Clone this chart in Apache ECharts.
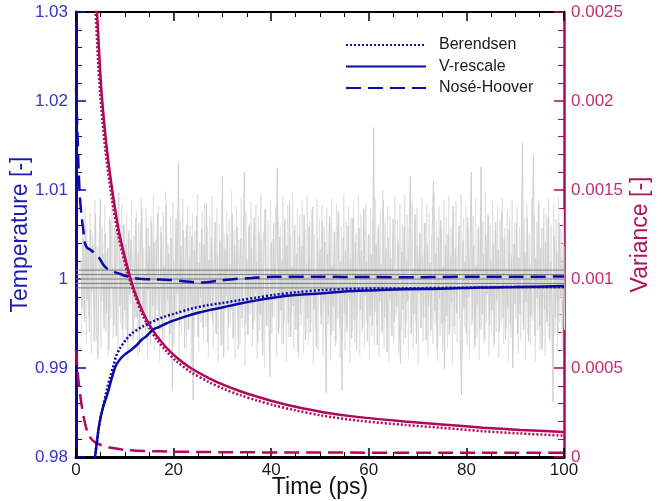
<!DOCTYPE html>
<html><head><meta charset="utf-8">
<script src="https://cdn.jsdelivr.net/npm/echarts/dist/echarts.min.js"></script>
<style>html,body{margin:0;padding:0;background:#fff}#c{width:664px;height:501px}</style>
</head><body><div id="c"></div>
<script>
// ---- Axes ----
const timeMin = 0, timeMax = 100, timeStep = 20;
const tempMin = 0.98, tempMax = 1.03, tempStep = 0.01;
const varMin = 0, varMax = 0.0025, varStep = 0.0005;
const refLevels = [0.999, 0.9995, 1.0, 1.0005, 1.001];

// ---- Temperature (left axis) ----
const bereTempTime = [3.8, 4.3, 4.9, 5.6, 6.3, 7.0, 7.7, 8.2, 9.0, 10.2, 11.5, 13.6, 16, 18, 20.4, 23.5, 27.2, 30, 33.7, 37, 40.3, 45, 50.5, 58, 67.3, 75, 83, 90, 100];
const bereTemp = [0.9795, 0.9818, 0.9840, 0.9858, 0.9875, 0.9890, 0.9903, 0.9913, 0.9922, 0.99315, 0.9939, 0.99464, 0.9953, 0.99575, 0.99614, 0.99665, 0.99708, 0.9973, 0.99764, 0.9979, 0.9982, 0.9985, 0.99876, 0.9989, 0.99895, 0.9990, 0.99905, 0.9991, 0.9991];

const vresTempTime = [3.8, 4.3, 4.8, 5.5, 6.5, 7.3, 8.2, 9.2, 10.2, 11.2, 12.3, 13.5, 14.5, 15.7, 17, 18.5, 20.4, 22.5, 25, 27.3, 30, 33.7, 37, 40.3, 45, 50.5, 55, 60, 67.3, 75, 83, 90, 100];
const vresTemp = [0.9795, 0.9818, 0.9838, 0.9855, 0.9872, 0.9888, 0.9903, 0.9911, 0.9916, 0.9920, 0.9925, 0.9932, 0.9936, 0.9943, 0.9946, 0.9950, 0.9954, 0.9958, 0.9962, 0.9965, 0.9968, 0.99725, 0.9976, 0.9979, 0.9982, 0.9984, 0.9986, 0.9987, 0.99885, 0.9989, 0.99905, 0.9991, 0.9992];

const noseTempTime = [0, 0.2, 0.35, 0.5, 0.8, 1.15, 1.5, 1.85, 2.3, 2.9, 3.6, 4.6, 5.6, 6.5, 7.8, 8.9, 9.8, 10.9, 12, 13.6, 16, 19.1, 22, 25.9, 29, 32.7, 36, 40.3, 50, 60, 70, 80, 90, 100];
const noseTemp = [1.0215, 1.018, 1.0156, 1.0128, 1.0092, 1.0070, 1.0055, 1.0040, 1.0035, 1.0033, 1.0030, 1.0025, 1.0016, 1.0011, 1.0008, 1.0006, 1.0004, 1.00026, 1.0001, 1.0, 0.99995, 0.9999, 0.99975, 0.9996, 0.9998, 1.0, 1.0001, 1.00026, 1.00025, 1.00022, 1.0002, 1.00025, 1.00025, 1.00028];

// instantaneous temperature traces (grey), sampled every 0.25 ps
const noiseStart = 1, noiseStep = 0.25;
const noiseTemp = [
1.0021,0.9968,1.0045,0.9952,1.0060,0.9978,1.0032,0.9941,1.0055,0.9985,1.0038,0.9930,1.0072,0.9960,0.9910,1.0040,1.0090,0.9975,1.0028,0.9944,
1.0051,0.9962,1.0035,0.9921,1.0066,0.9990,1.0012,0.9948,1.0058,0.9936,1.0047,1.0097,0.9970,1.0024,0.9943,1.0061,0.9965,1.0039,0.9929,1.0052,
0.9983,1.0044,1.0018,0.9934,0.9972,1.0068,0.9957,1.0030,0.9918,1.0049,1.0079,0.9961,1.0005,0.9940,1.0057,0.9988,1.0036,0.9926,1.0063,0.9969,
1.0041,0.9951,1.0026,1.0074,0.9947,0.9993,1.0052,0.9931,1.0015,0.9962,1.0083,0.9977,1.0029,0.9938,1.0046,0.9875,1.0020,0.9956,1.0067,0.9984,
1.0131,0.9949,1.0037,0.9966,1.0054,0.9922,1.0011,1.0062,0.9943,1.0025,0.9971,1.0048,0.9864,1.0033,0.9959,1.0071,0.9935,1.0018,0.9980,1.0056,
0.9945,1.0039,0.9963,1.0085,0.9929,1.0021,0.9974,1.0047,0.9952,1.0010,1.0064,0.9938,1.0027,0.9968,1.0043,0.9925,1.0115,0.9912,1.0034,0.9981,
1.0050,0.9946,1.0016,0.9965,1.0073,0.9934,1.0038,0.9977,1.0058,0.9921,1.0007,1.0045,0.9956,1.0030,1.0120,0.9950,1.0022,0.9937,1.0061,0.9972,
1.0035,0.9943,1.0069,0.9985,1.0019,0.9928,1.0053,0.9960,1.0044,0.9915,1.0026,1.0078,0.9948,1.0012,0.9967,0.9890,1.0040,0.9958,1.0063,0.9976,
1.0031,1.0125,0.9939,1.0047,0.9964,1.0022,0.9927,1.0066,0.9982,1.0038,0.9951,1.0087,0.9935,1.0014,0.9970,1.0055,0.9944,1.0029,0.9918,1.0049,
0.9961,1.0036,0.9978,1.0072,0.9932,1.0017,0.9955,1.0059,0.9940,1.0025,1.0081,0.9966,1.0008,0.9924,1.0045,0.9987,1.0033,0.9949,1.0064,0.9973,
1.0042,0.9872,1.0028,0.9958,1.0070,0.9937,1.0015,0.9969,1.0053,0.9929,1.0037,1.0076,0.9946,1.0020,0.9875,1.0047,0.9962,1.0031,0.9941,1.0060,
0.9976,1.0024,0.9933,1.0068,0.9954,1.0041,0.9920,1.0013,1.0057,0.9965,1.0032,0.9945,1.0079,0.9981,1.0019,0.9930,1.0050,0.9959,1.0027,0.9947,
1.0170,0.9963,1.0039,0.9926,1.0061,0.9974,1.0016,0.9942,1.0088,0.9957,1.0034,0.9918,1.0046,0.9979,1.0023,0.9936,1.0067,0.9952,1.0009,0.9969,
1.0043,0.9948,0.9905,1.0030,0.9966,1.0058,0.9934,1.0021,0.9975,1.0049,1.0115,0.9940,1.0012,0.9961,1.0072,0.9927,1.0036,0.9984,1.0052,0.9945,
1.0026,0.9956,1.0063,0.9931,1.0040,0.9970,1.0018,0.9943,1.0054,1.0110,0.9964,1.0029,0.9922,1.0047,0.9978,1.0066,0.9950,1.0014,0.9898,1.0038,
0.9959,1.0051,0.9937,1.0025,0.9973,1.0082,0.9946,1.0034,0.9962,1.0011,1.0060,0.9928,0.9870,1.0043,0.9967,1.0020,0.9939,1.0069,0.9980,1.0032,
1.0120,0.9954,1.0037,0.9925,1.0015,0.9971,1.0058,0.9944,1.0126,0.9960,1.0028,0.9933,1.0049,0.9983,1.0071,0.9948,1.0022,0.9965,1.0040,0.9929,
1.0064,0.9976,1.0033,0.9941,1.0018,1.0075,0.9957,1.0045,0.9932,1.0010,0.9968,1.0056,0.9949,1.0027,0.9900,1.0039,0.9972,1.0062,0.9938,1.0024,
0.9961,1.0046,1.0153,0.9943,1.0030,0.9974,1.0068,0.9930,1.0016,0.9958,1.0052,1.0139,0.9936,1.0024,0.9979,1.0083,0.9947,1.0035,0.9921,1.0057,
0.9966,1.0041,0.9952,1.0070,0.9934,1.0019,0.9975,0.9862,1.0048,0.9957,1.0031,0.9940,1.0063,0.9981,1.0025,0.9945,1.0036
];
const noise2Start = 1.125;
const noiseTemp2 = [
0.9935,1.0068,0.9962,1.0081,0.9927,1.0043,0.9958,1.0074,0.9916,1.0052,0.9970,1.0089,0.9931,1.0036,0.9948,1.0066,0.9922,1.0058,0.9975,1.0084,
0.9940,1.0031,0.9913,1.0070,0.9956,1.0092,0.9933,1.0047,0.9968,1.0079,0.9919,1.0038,0.9950,1.0085,0.9926,1.0061,0.9944,1.0073,0.9909,1.0055,
0.9972,1.0088,0.9930,1.0049,0.9957,1.0076,0.9914,1.0063,0.9946,1.0091,0.9924,1.0035,0.9961,1.0080,0.9911,1.0057,0.9938,1.0071,0.9952,1.0094,
0.9920,1.0044,0.9965,1.0083,0.9908,1.0059,0.9942,1.0075,0.9929,1.0098,0.9954,1.0040,0.9917,1.0069,0.9948,1.0086,0.9925,1.0052,0.9960,1.0078,
0.9913,1.0065,0.9939,1.0090,0.9956,1.0047,0.9921,1.0081,0.9944,1.0060,0.9905,1.0073,0.9936,1.0054,0.9967,1.0095,0.9918,1.0042,0.9951,1.0077,
0.9931,1.0086,0.9946,1.0058,0.9912,1.0071,0.9959,1.0093,0.9923,1.0046,0.9940,1.0080,0.9907,1.0062,0.9955,1.0089,0.9928,1.0051,0.9963,1.0075,
0.9919,1.0067,0.9949,1.0099,0.9932,1.0055,0.9911,1.0082,0.9958,1.0044,0.9926,1.0091,0.9945,1.0063,0.9903,1.0076,0.9937,1.0057,0.9961,1.0087,
0.9924,1.0048,0.9953,1.0084,0.9910,1.0070,0.9942,1.0096,0.9930,1.0053,0.9901,1.0079,0.9947,1.0066,0.9915,1.0088,0.9938,1.0045,0.9957,1.0081,
0.9912,1.0074,0.9945,1.0059,0.9927,1.0092,0.9950,1.0068,0.9906,1.0083,0.9935,1.0050,0.9962,1.0097,0.9921,1.0061,0.9943,1.0079,0.9909,1.0072,
0.9948,1.0087,0.9916,1.0056,0.9939,1.0094,0.9926,1.0065,0.9952,1.0078,0.9904,1.0049,0.9944,1.0090,0.9920,1.0067,0.9958,1.0083,0.9913,1.0058,
0.9933,1.0080,0.9949,1.0062,0.9908,1.0091,0.9941,1.0053,0.9924,1.0085,0.9955,1.0071,0.9911,1.0059,0.9937,1.0096,0.9919,1.0064,0.9946,1.0082,
0.9906,1.0069,0.9943,1.0088,0.9928,1.0052,0.9957,1.0094,0.9914,1.0073,0.9940,1.0060,0.9923,1.0086,0.9951,1.0047,0.9909,1.0079,0.9936,1.0068,
0.9925,1.0090,0.9947,1.0057,0.9912,1.0077,0.9939,1.0099,0.9922,1.0063,0.9954,1.0082,0.9907,1.0070,0.9944,1.0051,0.9929,1.0093,0.9958,1.0066,
0.9917,1.0084,0.9942,1.0061,0.9926,1.0095,0.9950,1.0072,0.9910,1.0056,0.9937,1.0088,0.9921,1.0067,0.9953,1.0080,0.9904,1.0049,0.9945,1.0091,
0.9930,1.0062,0.9956,1.0085,0.9913,1.0074,0.9940,1.0050,0.9927,1.0097,0.9949,1.0066,0.9908,1.0081,0.9936,1.0059,0.9918,1.0089,0.9952,1.0070,
0.9922,1.0093,0.9944,1.0058,0.9905,1.0076,0.9938,1.0087,0.9929,1.0053,0.9957,1.0095,0.9915,1.0068,0.9946,1.0082,0.9926,1.0060,0.9911,1.0079,
0.9948,1.0071,0.9920,1.0090,0.9935,1.0056,0.9909,1.0084,0.9943,1.0065,0.9928,1.0098,0.9951,1.0073,0.9914,1.0061,0.9939,1.0087,0.9924,1.0054,
0.9941,1.0083,0.9912,1.0066,0.9950,1.0092,0.9927,1.0057,0.9945,1.0078,0.9906,1.0070,0.9934,1.0089,0.9921,1.0063,0.9955,1.0081,0.9916,1.0059,
0.9932,1.0096,0.9949,1.0068,0.9910,1.0085,0.9938,1.0052,0.9925,1.0091,0.9953,1.0074,0.9907,1.0064,0.9942,1.0088,0.9919,1.0058,0.9936,1.0080,
0.9914,1.0072,0.9947,1.0090,0.9930,1.0061,0.9903,1.0084,0.9940,1.0067,0.9922,1.0093,0.9951,1.0056,0.9917,1.0078,0.9943
];

// ---- Variance (right axis) ----
const bereVarTime = [3.7, 4.0, 4.45, 4.95, 5.95, 7.3, 8.7, 10.5, 12, 13.6, 15, 16.4, 18.5, 20.5, 23.5, 27.3, 30.5, 33.8, 37, 40.4, 45, 50.6, 58, 67.4, 75, 83.4, 91, 100];
const bereVar = [0.0026, 0.0025, 0.00226, 0.00204, 0.00174, 0.00146, 0.00124, 0.00104, 0.000915, 0.0008, 0.000725, 0.000665, 0.000595, 0.00054, 0.000478, 0.00042, 0.00038, 0.000346, 0.000318, 0.000292, 0.000262, 0.000232, 0.000204, 0.00018, 0.000164, 0.000145, 0.000132, 0.00012];

const vresVarTime = [4.0, 4.3, 4.77, 5.26, 6.29, 7.64, 9.0, 10.7, 12, 13.6, 15, 16.4, 18.5, 20.5, 23.5, 27.3, 30.5, 33.8, 37, 40.4, 45, 50.6, 58, 67.4, 75, 83.4, 91, 100];
const vresVar = [0.0026, 0.0025, 0.00226, 0.00204, 0.00174, 0.00146, 0.00124, 0.00105, 0.00093, 0.00082, 0.000745, 0.000685, 0.000615, 0.000562, 0.0005, 0.000442, 0.000402, 0.000368, 0.00034, 0.000313, 0.000282, 0.000252, 0.000224, 0.0002, 0.000183, 0.000165, 0.000152, 0.000141];

const noseVarTime = [0, 0.5, 1.0, 1.6, 2.4, 3.2, 4.1, 5.5, 7.5, 10.2, 14, 20.5, 30, 50, 75, 100];
const noseVar = [0.0006, 0.00043, 0.00032, 0.00022, 0.000135, 0.0001, 0.000079, 0.000064, 0.00005, 0.00004, 0.000034, 0.00003, 0.000027, 0.000025, 0.000024, 0.000024];

const legendNames = ['Berendsen', 'V-rescale', 'Nosé-Hoover'];

// ---- build ----
const pairs = (ts, vs) => ts.map((t, i) => [t, vs[i]]);
const noiseData = noiseTemp.map((v, i) => [noiseStart + i * noiseStep, v]);
const noiseData2 = noiseTemp2.map((v, i) => [noise2Start + i * noiseStep, v]);

const FONT = "'Liberation Sans', Arial, sans-serif";
const BLUE = '#0a0aa6', CRIM = '#b0085a';
const BLUE_LBL = '#3535c4', CRIM_LBL = '#c3306f';
const dotted = [2, 2], dashed = [15, 7];

const refSeries = refLevels.map(v => ({
  type: 'line', xAxisIndex: 0, yAxisIndex: 0, data: [[timeMin, v], [timeMax, v]],
  symbol: 'none', silent: true, lineStyle: {color: '#7a7a7a', width: 1}, z: 2
}));

const chart = echarts.init(document.getElementById('c'), null, {renderer: 'canvas'});
chart.setOption({
  animation: false,
  backgroundColor: '#fff',
  textStyle: {fontFamily: FONT},
  grid: {left: 76, right: 100, top: 12, bottom: 44, containLabel: false, outerBoundsMode: 'none'},
  legend: {
    data: legendNames, orient: 'vertical', left: 345, top: 37, padding: 0,
    itemWidth: 80, itemHeight: 14, itemGap: 5.5,
    itemStyle: {opacity: 0},
    textStyle: {fontSize: 16, color: '#1a1a1a', fontFamily: FONT, padding: [0, 0, 0, 8]}
  },
  xAxis: [{
    type: 'value', position: 'bottom', min: timeMin, max: timeMax, interval: timeStep,
    name: 'Time (ps)', nameLocation: 'middle', nameGap: 19, nameMoveOverlap: false,
    nameTextStyle: {fontSize: 23, color: '#111', fontFamily: FONT},
    axisLine: {show: true, onZero: false, lineStyle: {color: '#000', width: 3}},
    axisTick: {show: true, inside: true, length: 9, lineStyle: {color: '#000', width: 1.5}},
    minorTick: {show: true, splitNumber: 4, length: 5, lineStyle: {color: '#000', width: 1}},
    axisLabel: {fontSize: 17, color: '#1a1a1a', margin: 5, fontFamily: FONT},
    splitLine: {show: false}
  }, {
    type: 'value', position: 'top', min: timeMin, max: timeMax, interval: timeStep,
    axisLine: {show: true, onZero: false, lineStyle: {color: '#000', width: 2}},
    axisTick: {show: true, inside: true, length: 9, lineStyle: {color: '#000', width: 1.5}},
    minorTick: {show: true, splitNumber: 4, length: 5, lineStyle: {color: '#000', width: 1}},
    axisLabel: {show: false}, splitLine: {show: false}
  }],
  yAxis: [{
    type: 'value', position: 'left', min: tempMin, max: tempMax, interval: tempStep,
    name: 'Temperature [-]', nameLocation: 'middle', nameRotate: 90, nameGap: 44, nameMoveOverlap: false,
    nameTextStyle: {fontSize: 23, color: '#1c1cb0', fontFamily: FONT},
    axisLine: {show: true, onZero: false, lineStyle: {color: BLUE, width: 3}},
    axisTick: {show: true, inside: true, length: 10, lineStyle: {color: BLUE, width: 1.5}},
    minorTick: {show: true, splitNumber: 5, length: 6, lineStyle: {color: BLUE, width: 1}},
    axisLabel: {fontSize: 17, color: BLUE_LBL, margin: 8, fontFamily: FONT},
    splitLine: {show: false}
  }, {
    type: 'value', position: 'right', min: varMin, max: varMax, interval: varStep,
    name: 'Variance [-]', nameLocation: 'middle', nameRotate: 90, nameGap: 65, nameMoveOverlap: false,
    nameTextStyle: {fontSize: 23, color: '#b0105c', fontFamily: FONT},
    axisLine: {show: true, onZero: false, lineStyle: {color: CRIM, width: 2.5}},
    axisTick: {show: true, inside: true, length: 10, lineStyle: {color: CRIM, width: 1.5}},
    minorTick: {show: true, splitNumber: 5, length: 6, lineStyle: {color: CRIM, width: 1}},
    axisLabel: {fontSize: 17, color: CRIM_LBL, margin: 7, fontFamily: FONT},
    splitLine: {show: false}
  }],
  series: [
    {name: 'T inst 2', type: 'line', xAxisIndex: 0, yAxisIndex: 0, data: noiseData2, symbol: 'none',
     lineStyle: {color: '#e2e2e2', width: 1}, z: 1, silent: true},
    {name: 'T inst', type: 'line', xAxisIndex: 0, yAxisIndex: 0, data: noiseData, symbol: 'none',
     lineStyle: {color: '#d0d0d0', width: 1}, z: 1, silent: true},
    ...refSeries,
    {name: 'Berendsen var', type: 'line', xAxisIndex: 0, yAxisIndex: 1, data: pairs(bereVarTime, bereVar),
     symbol: 'none', smooth: 0.3, lineStyle: {color: CRIM, width: 2.5, type: dotted}, z: 3},
    {name: 'V-rescale var', type: 'line', xAxisIndex: 0, yAxisIndex: 1, data: pairs(vresVarTime, vresVar),
     symbol: 'none', smooth: 0.3, lineStyle: {color: CRIM, width: 2.5}, z: 3},
    {name: 'Nosé-Hoover var', type: 'line', xAxisIndex: 0, yAxisIndex: 1, data: pairs(noseVarTime, noseVar),
     symbol: 'none', smooth: 0.3, lineStyle: {color: CRIM, width: 2.5, type: dashed}, z: 3},
    {name: legendNames[0], type: 'line', xAxisIndex: 0, yAxisIndex: 0, data: pairs(bereTempTime, bereTemp),
     symbol: 'none', smooth: 0.3, lineStyle: {color: BLUE, width: 2.5, type: dotted}, itemStyle: {color: BLUE}, z: 4},
    {name: legendNames[1], type: 'line', xAxisIndex: 0, yAxisIndex: 0, data: pairs(vresTempTime, vresTemp),
     symbol: 'none', smooth: 0.3, lineStyle: {color: BLUE, width: 2.5}, itemStyle: {color: BLUE}, z: 4},
    {name: legendNames[2], type: 'line', xAxisIndex: 0, yAxisIndex: 0, data: pairs(noseTempTime, noseTemp),
     symbol: 'none', smooth: 0.3, lineStyle: {color: BLUE, width: 2.5, type: dashed}, itemStyle: {color: BLUE}, z: 4}
  ]
});
</script></body></html>
